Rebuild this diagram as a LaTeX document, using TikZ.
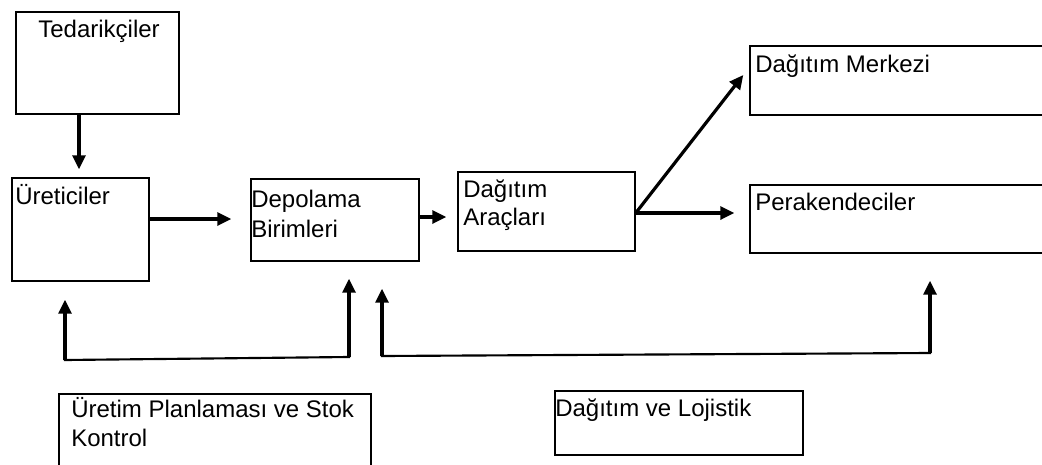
\documentclass[tikz,border=0pt]{standalone}
\usepackage{fontspec}
\setmainfont{Liberation Sans}
\usetikzlibrary{arrows.meta,calc,fit}
\newcommand\myTop{\rule{0pt}{16.5pt}}
\begin{document}
\begin{tikzpicture}[x=0.75pt,y=-0.75pt,
  box/.style={draw=black, line width=1.1pt, inner sep=0pt},
  txt/.style={inner sep=0pt, anchor=north west, align=left, font={\fontsize{18pt}{21.75pt}\selectfont}},
  arr/.style={line width=2.4pt, -{Triangle[length=10.5pt,width=9.75pt]}},
  fbline/.style={line width=1.6pt, line cap=rect},
]
\useasboundingbox (0,0) rectangle (1042,464);
\clip (0,0) rectangle (1042,464);

% boxes
\node[box, fit={(16,12) (179,114)}] (ted) {};
\node[box, fit={(12,178) (149,281)}] (ure) {};
\node[box, fit={(251,179) (419,261)}] (dep) {};
\node[box, fit={(458,172) (635,251)}] (dag) {};
\node[box, fit={(750,46) (1060,115)}] (mer) {};
\node[box, fit={(750,185) (1060,253)}] (per) {};
\node[box, fit={(59,394) (371,480)}] (plan) {};
\node[box, fit={(555,391) (803,455)}] (loj) {};

% texts
\node[txt, anchor=north] (tedT) at (99,15) {\myTop Tedarikçiler};
\node[txt] (ureT) at (15,182) {\myTop Üreticiler};
\node[txt, font={\fontsize{18pt}{23pt}\selectfont}] (depT) at (251,185) {\myTop Depolama\\Birimleri};
\node[txt, font={\fontsize{18pt}{21pt}\selectfont}] (dagT) at (463,175) {\myTop Dağıtım\\Araçları};
\node[txt] (merT) at (755,50) {\myTop Dağıtım Merkezi};
\node[txt] (perT) at (755,188) {\myTop Perakendeciler};
\node[txt] (planT) at (71,395) {\myTop Üretim Planlaması ve Stok\\Kontrol};
\node[txt] (lojT) at (555,394) {\myTop Dağıtım ve Lojistik};

% flow arrows
\draw[arr] ($(ted.south)+(-18.5,0)$) -- ($(ure.north)+(-1.5,-8)$);
\draw[arr] ($(ure.east)+(0,-10.5)$) -- ($(dep.west)+(-19,-1)$);
\draw[arr] ($(dep.east)+(0,-3)$) -- ($(dag.west)+(-11,5.5)$);
\draw[arr] ($(dag.east)+(0,1.5)$) -- ($(mer.west)+(-6,-5.5)$);
\draw[arr] ($(dag.east)+(0,1.5)$) -- ($(per.west)+(-15,-6)$);

% feedback lines
\coordinate (fa) at (65,360);
\coordinate (fb) at (349,357);
\coordinate (fc) at (382,356);
\coordinate (fd) at (930,353);
\draw[fbline] (fa) -- (fb);
\draw[fbline] (fc) -- (fd);
\draw[arr] (fa) -- ($(ure.south)+(-15.5,18)$);
\draw[arr] (fb) -- ($(dep.south)+(14,17)$);
\draw[arr] (fc) -- ($(dep.south)+(47,27)$);
\draw[arr] (fd) -- ($(per.south)+(25,27)$);
\end{tikzpicture}
\end{document}
